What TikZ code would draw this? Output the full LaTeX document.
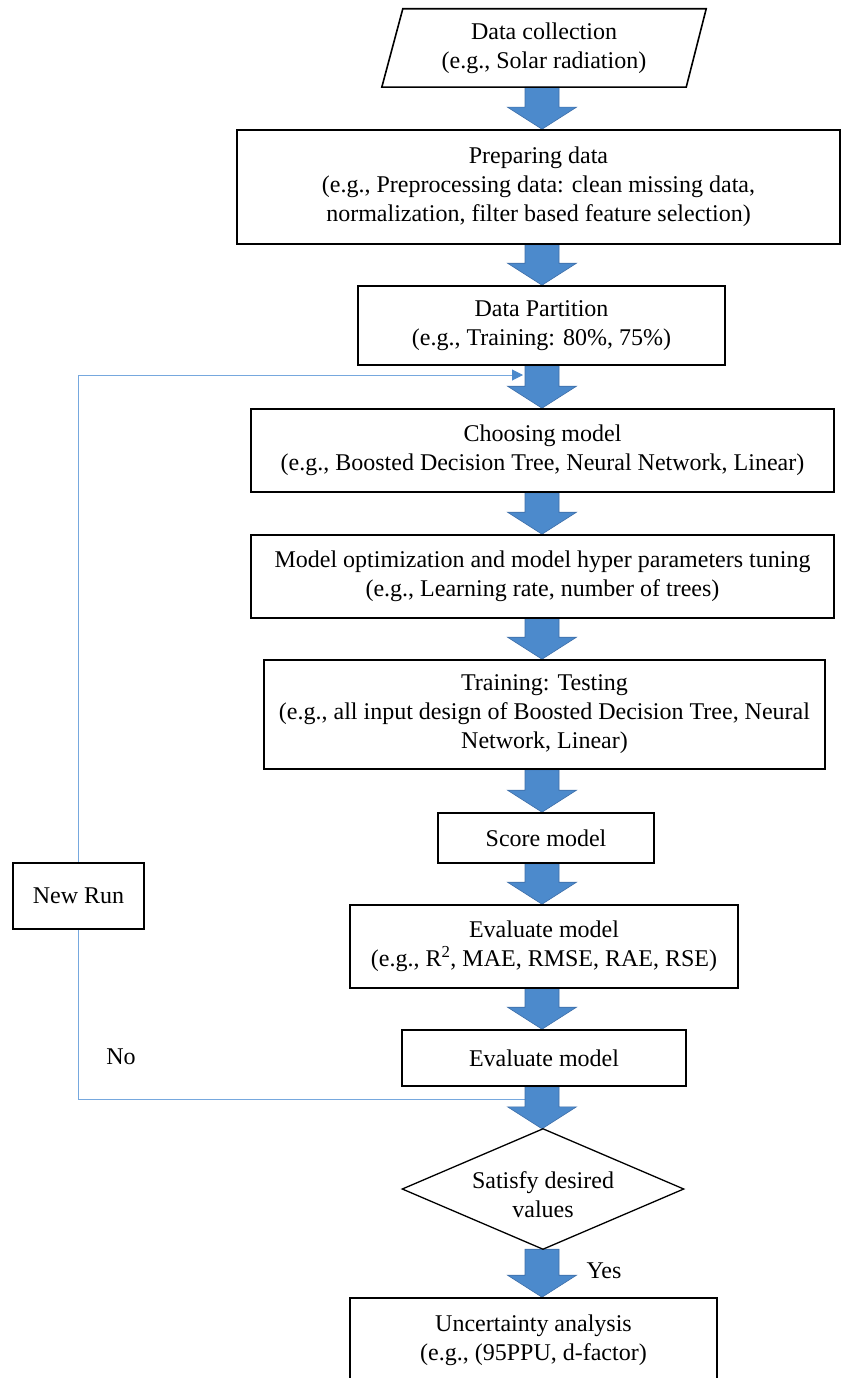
\documentclass[tikz,border=0pt]{standalone}
\usepackage{fontspec}
\setmainfont{Liberation Serif}
\usetikzlibrary{calc,arrows.meta,backgrounds}
\definecolor{arrowfill}{RGB}{76,138,204}
\definecolor{arrowedge}{RGB}{62,110,168}
\definecolor{loopblue}{RGB}{118,168,222}
\newcommand\flowarrow[2]{%
  \path[blockarrow] ($(#1.south -| axis)+(-17,0)$) -- ($(#2.north -| axis)+(-17,-22)$)
    -- ($(#2.north -| axis)+(-34.5,-22)$) -- (#2.north -| axis)
    -- ($(#2.north -| axis)+(34.5,-22)$) -- ($(#2.north -| axis)+(17,-22)$)
    -- ($(#1.south -| axis)+(17,0)$) -- cycle;}
\begin{document}
\begin{tikzpicture}[x=1pt,y=-1pt,
  txt/.style={inner sep=0pt,align=center,font=\fontsize{24}{29}\selectfont},
  box/.style={txt,draw=black,line width=1.6pt,rectangle},
  loopline/.style={draw=loopblue,line width=1pt},
  blockarrow/.style={fill=arrowfill,draw=arrowedge,line width=0.6pt,line join=miter}]
\useasboundingbox (0,0) rectangle (842,1378);
\coordinate (axis) at (542,0);
% nodes
\node[txt,minimum width=324pt,minimum height=78pt] (collect) at (544,48) {Data collection\\(e.g., Solar radiation)};
\draw[line width=1.6pt] ([xshift=21pt]collect.north west) -- (collect.north east)
  -- ([xshift=-20pt]collect.south east) -- (collect.south west) -- cycle;
\node[box,minimum width=603pt,minimum height=114pt] (prep) at (538.5,187) {Preparing data\\(e.g., Preprocessing data: clean missing data,\\normalization, filter based feature selection)};
\node[box,minimum width=367pt,minimum height=79pt] (part) at (541.5,325.5) {Data Partition\\(e.g., Training: 80\%, 75\%)};
\node[box,minimum width=583pt,minimum height=83pt] (choose) at (542.5,450.5) {Choosing model\\(e.g., Boosted Decision Tree, Neural Network, Linear)};
\node[box,minimum width=583pt,minimum height=83pt] (opt) at (542.5,576.5) {Model optimization and model hyper parameters tuning\\(e.g., Learning rate, number of trees)};
\node[box,minimum width=561pt,minimum height=109pt] (train) at (544.5,714.5) {Training: Testing\\(e.g., all input design of Boosted Decision Tree, Neural\\Network, Linear)};
\node[box,minimum width=216pt,minimum height=50pt] (score) at (546,838) {Score model};
\node[box,minimum width=388pt,minimum height=83pt] (eval1) at (544,946.5) {Evaluate model\\(e.g., R\textsuperscript{2}, MAE, RMSE, RAE, RSE)};
\node[box,minimum width=284pt,minimum height=56pt] (eval2) at (544,1058) {Evaluate model};
\node[txt,minimum width=281pt,minimum height=120pt] (decide) at (543,1189) {};
\draw[line width=1.3pt] (decide.north) -- (decide.east) -- (decide.south) -- (decide.west) -- cycle;
\node[txt] (decidetext) at (543,1195) {Satisfy desired\\values};
\node[box,minimum width=367pt,minimum height=84pt] (unc) at (533.5,1340) {Uncertainty analysis\\(e.g., (95PPU, d-factor)};
\node[box,minimum width=131pt,minimum height=66pt] (newrun) at (78.5,896) {New Run};
\node[txt] (no) at (121,1057) {No};
\node[txt] (yes) at (604,1271) {Yes};
\coordinate (fbstart) at (525,1099);
\coordinate (fbend) at (523,375);
\begin{pgfonlayer}{background}
\draw[loopline] (fbstart) -| (newrun.south);
\draw[loopline,-{Triangle[length=11pt,width=11pt,color=arrowfill]}] (newrun.north) |- (fbend);
\flowarrow{collect}{prep}
\flowarrow{prep}{part}
\flowarrow{part}{choose}
\flowarrow{choose}{opt}
\flowarrow{opt}{train}
\flowarrow{train}{score}
\flowarrow{score}{eval1}
\flowarrow{eval1}{eval2}
\flowarrow{eval2}{decide}
\flowarrow{decide}{unc}
\end{pgfonlayer}
\end{tikzpicture}
\end{document}
